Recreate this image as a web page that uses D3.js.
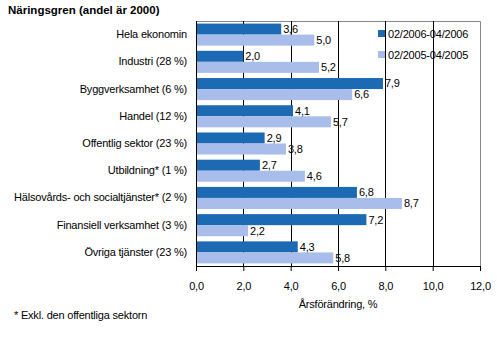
<!DOCTYPE html>
<html>
<head>
<meta charset="utf-8">
<script src="https://cdn.jsdelivr.net/npm/d3@7"></script>
<style>
  body { margin: 0; background: #fff; }
  svg { display: block; font-family: "Liberation Sans", Arial, sans-serif; }
  .lbl { font-size: 11px; letter-spacing: -0.2px; fill: #000; }
</style>
</head>
<body>
<svg id="chart" width="497" height="344"></svg>
<script>
const categories = [
  "Hela ekonomin",
  "Industri (28 %)",
  "Byggverksamhet (6 %)",
  "Handel (12 %)",
  "Offentlig sektor (23 %)",
  "Utbildning* (1 %)",
  "Hälsovårds- och socialtjänster* (2 %)",
  "Finansiell verksamhet (3 %)",
  "Övriga tjänster (23 %)"
];
const series2006 = [3.6, 2.0, 7.9, 4.1, 2.9, 2.7, 6.8, 7.2, 4.3];
const series2005 = [5.0, 5.2, 6.6, 5.7, 3.8, 4.6, 8.7, 2.2, 5.8];
const seriesNames = ["02/2006-04/2006", "02/2005-04/2005"];
const xTicks = [0, 2, 4, 6, 8, 10, 12];

const colors = ["#1c6ab4", "#a8bdea"];
const fmt = v => d3.format(".1f")(v).replace(".", ",");

const svg = d3.select("#chart");
const m = { left: 196, right: 480, top: 21, bottom: 266 };

const x = d3.scaleLinear().domain([0, 12]).range([m.left, m.right]);
const y = d3.scaleBand().domain(categories).range([m.top, m.bottom]).paddingInner(0.19).paddingOuter(0.095);
const inner = d3.scaleBand().domain([0, 1]).range([0, y.bandwidth()]);

// plot frame: gray top/right border
svg.append("path")
  .attr("d", `M${m.left},${m.top + 0.5}H${m.right + 0.5}V${m.bottom}`)
  .attr("fill", "none").attr("stroke", "#888").attr("stroke-width", 1);

// vertical gridlines
svg.append("g").selectAll("line")
  .data(xTicks.filter(t => t > 0 && t < 12))
  .join("line")
  .attr("x1", d => Math.round(x(d)) + 0.5).attr("x2", d => Math.round(x(d)) + 0.5)
  .attr("y1", m.top).attr("y2", m.bottom)
  .attr("stroke", "#000").attr("stroke-width", 1);

// bars
const data = categories.map((c, i) => ({ c, vals: [series2006[i], series2005[i]] }));
const groups = svg.append("g").selectAll("g").data(data).join("g")
  .attr("transform", d => `translate(0,${y(d.c)})`);

groups.selectAll("rect").data(d => d.vals).join("rect")
  .attr("x", x(0))
  .attr("y", (d, i) => inner(i))
  .attr("width", d => x(d) - x(0))
  .attr("height", inner.bandwidth())
  .attr("fill", (d, i) => colors[i]);

groups.selectAll("text.val").data(d => d.vals).join("text")
  .attr("class", "val lbl")
  .attr("x", d => x(d) + 2)
  .attr("y", (d, i) => inner(i) + inner.bandwidth() / 2)
  .attr("dy", "0.35em")
  .text(d => fmt(d));

// x axis
const xAxis = svg.append("g")
  .attr("transform", `translate(0,${m.bottom})`)
  .call(d3.axisBottom(x).tickValues(xTicks).tickFormat(fmt).tickSize(5).tickSizeOuter(0));
xAxis.attr("font-family", null).attr("font-size", null);
xAxis.select(".domain").attr("stroke", "#000");
xAxis.selectAll("line").attr("stroke", "#000");
xAxis.selectAll("text").attr("class", "lbl").attr("fill", null).attr("dy", "1.45em");

// y axis
const yAxis = svg.append("g")
  .attr("transform", `translate(${m.left},0)`)
  .call(d3.axisLeft(y).tickSize(0).tickPadding(9));
yAxis.attr("font-family", null).attr("font-size", null);
yAxis.select(".domain").attr("stroke", "#000").attr("d", `M0.5,${m.top}V${m.bottom}`);
yAxis.selectAll("text").attr("class", "lbl").attr("fill", null);

// titles
svg.append("text").attr("x", 8).attr("y", 14)
  .attr("font-size", 11.5).attr("font-weight", "bold").text("Näringsgren (andel är 2000)");
svg.append("text").attr("class", "lbl").attr("x", (m.left + m.right) / 2).attr("y", 308)
  .attr("text-anchor", "middle").text("Årsförändring, %");
svg.append("text").attr("class", "lbl").attr("x", 14).attr("y", 319)
  .text("* Exkl. den offentliga sektorn");

// legend
const legend = svg.append("g").selectAll("g").data(seriesNames).join("g")
  .attr("transform", (d, i) => `translate(378,${34 + i * 21})`);
legend.append("rect").attr("x", 0).attr("y", -4).attr("width", 7).attr("height", 7)
  .attr("fill", (d, i) => colors[i]);
legend.append("text").attr("class", "lbl").attr("x", 10).attr("y", 0).attr("dy", "0.35em")
  .text(d => d);
</script>
</body>
</html>
